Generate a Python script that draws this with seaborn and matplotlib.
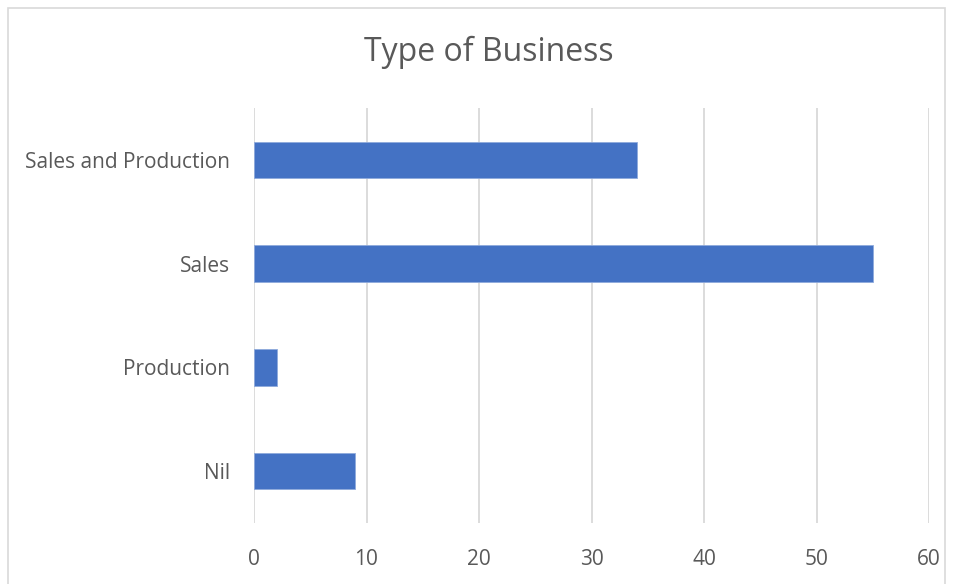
import matplotlib
matplotlib.use("Agg")
import matplotlib.pyplot as plt
import seaborn as sns
import pandas as pd
from matplotlib.patches import Rectangle

categories = ["Sales and Production", "Sales", "Production", "Nil"]
counts = [34, 55, 2, 9]
x_ticks = [0, 10, 20, 30, 40, 50, 60]

df = pd.DataFrame({"type": categories, "count": counts})

sns.set_theme(style="white")
plt.rcParams["font.family"] = ["Open Sans", "DejaVu Sans"]

W, H = 956, 584
fig = plt.figure(figsize=(W / 100, H / 100), dpi=100)
fig.patch.set_facecolor("white")

# plot area in pixel terms
left, right, top, bottom = 254, 929, 108, 523
ax = fig.add_axes([left / W, 1 - bottom / H, (right - left) / W, (bottom - top) / H])

sns.barplot(data=df, x="count", y="type", order=categories, color="#4472C4",
            saturation=1, width=0.35, ax=ax, edgecolor="#8FAADC", linewidth=0.6)

ax.set_xlim(0, 60)
ax.set_ylim(3.5, -0.5)
ax.set_xticks(x_ticks)
ax.set_xticklabels([str(t) for t in x_ticks])
ax.xaxis.grid(True, color="#D9D9D9", linewidth=1.3)
ax.set_axisbelow(True)
for s in ax.spines.values():
    s.set_visible(False)
ax.set_xlabel("")
ax.set_ylabel("")
ax.tick_params(axis="both", length=0, labelsize=15, colors="#595959")
ax.tick_params(axis="x", pad=19)
ax.tick_params(axis="y", pad=17)

fig.text(489 / W, 1 - 52 / H, "Type of Business", ha="center", va="center",
         fontsize=23, color="#595959")

# outer chart frame
fig.add_artist(Rectangle((8 / W, -0.01), (945 - 8) / W, 1 - 8 / H + 0.01,
                         transform=fig.transFigure, fill=False,
                         edgecolor="#D9D9D9", linewidth=1.2))

fig.savefig("out.png", dpi=100, facecolor="white")
